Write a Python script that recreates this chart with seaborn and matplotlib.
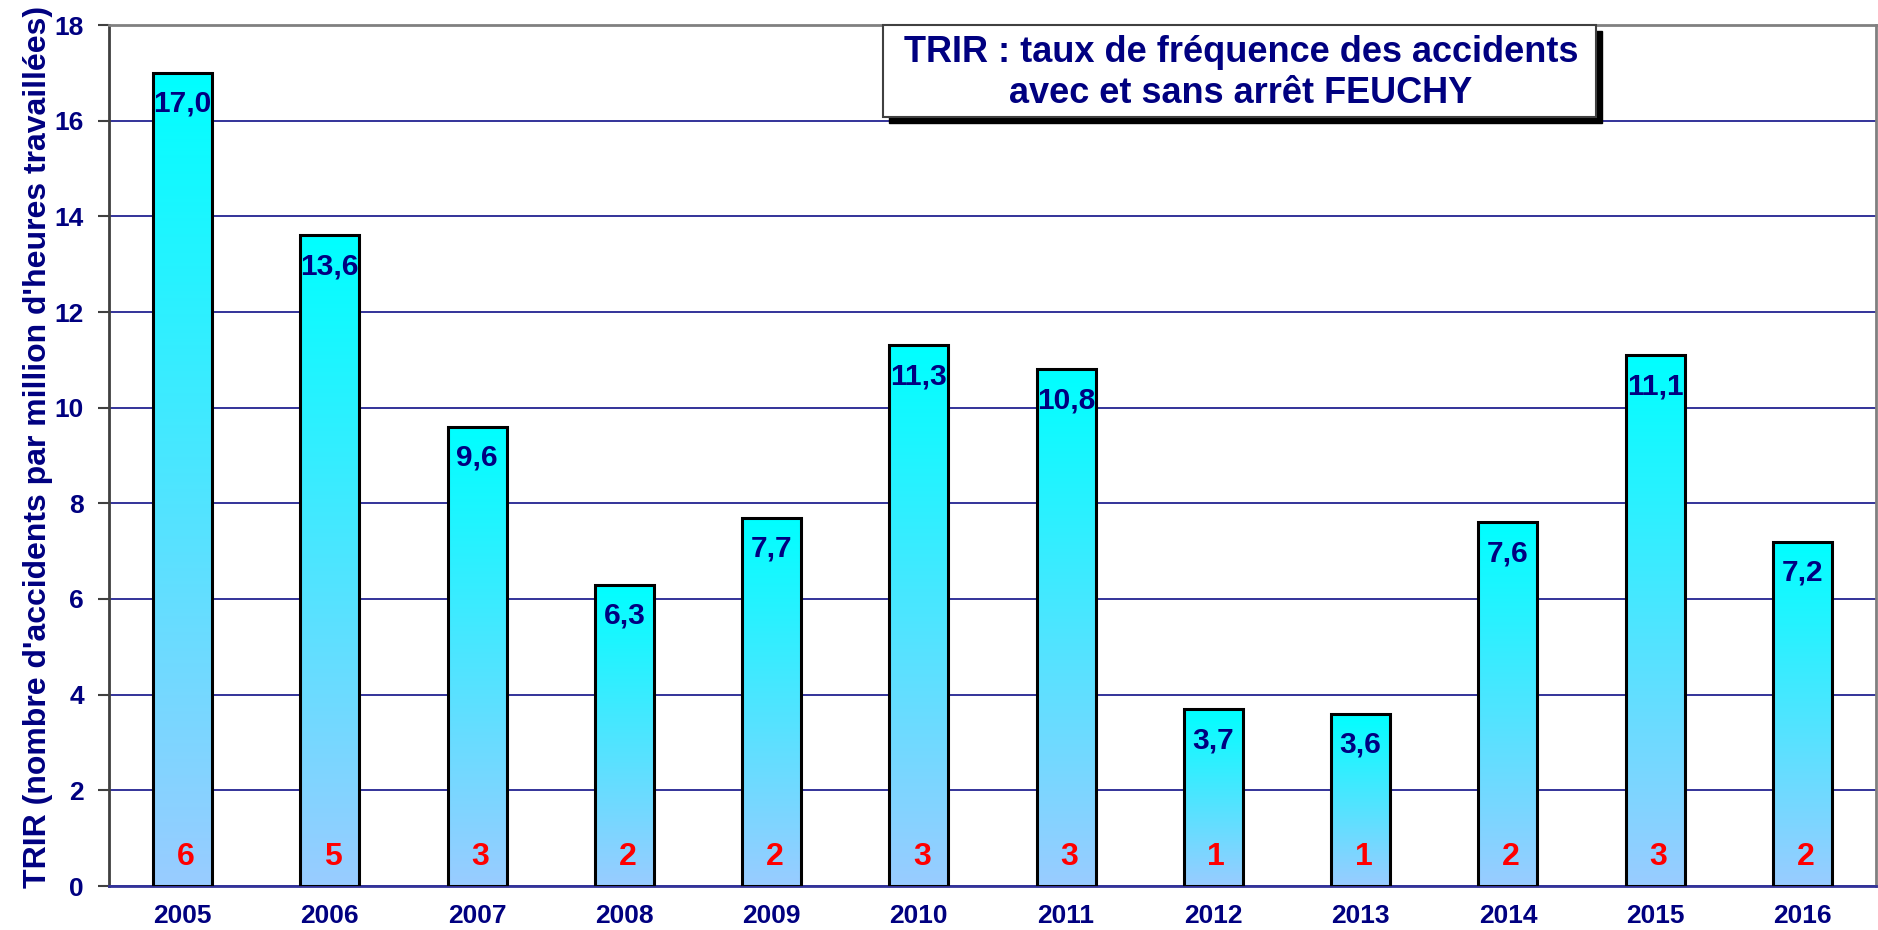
import numpy as np
import pandas as pd
import seaborn as sns
import matplotlib
matplotlib.use("Agg")
import matplotlib.pyplot as plt
from matplotlib.colors import LinearSegmentedColormap
from matplotlib.patches import Rectangle

# data
years = ["2005", "2006", "2007", "2008", "2009", "2010",
         "2011", "2012", "2013", "2014", "2015", "2016"]
trir = [17.0, 13.6, 9.6, 6.3, 7.7, 11.3, 10.8, 3.7, 3.6, 7.6, 11.1, 7.2]
accidents = [6, 5, 3, 2, 2, 3, 3, 1, 1, 2, 3, 2]

title_lines = ["TRIR : taux de fréquence des accidents",
               "avec et sans arrêt FEUCHY"]
ylabel = "TRIR (nombre d'accidents par million d'heures travaillées)"

navy = "#000080"
grid_blue = "#333399"

df = pd.DataFrame({"year": years, "trir": trir, "n": accidents})

sns.set_style("white")
plt.rcParams["font.family"] = ["Liberation Sans", "DejaVu Sans"]
plt.rcParams["font.weight"] = "bold"

W, H = 1878, 930
fig = plt.figure(figsize=(W / 100, H / 100), dpi=100)
ax = fig.add_axes([109 / W, 1 - 886 / H, (1876 - 109) / W, (886 - 25) / H])

sns.barplot(data=df, x="year", y="trir", ax=ax, width=0.40,
            color="white", edgecolor="black", linewidth=2.2, zorder=3)

# vertical gradient inside each bar: light blue at bottom, cyan at top
cmap = LinearSegmentedColormap.from_list("bar", ["#99CCFF", "#00FFFF"])
grad = np.linspace(0, 1, 256).reshape(-1, 1)
for p in ax.patches:
    x0, y0 = p.get_x(), p.get_y()
    w, h = p.get_width(), p.get_height()
    im = ax.imshow(grad, cmap=cmap, origin="lower", aspect="auto",
                   extent=[x0, x0 + w, y0, y0 + h], zorder=2.9)
    im.set_clip_path(p)
    p.set_facecolor("none")

ax.set_xlim(-0.5, len(years) - 0.5)
ax.set_ylim(0, 18)
ax.set_yticks(range(0, 19, 2))

# value labels and accident counts
for i, (v, n) in enumerate(zip(trir, accidents)):
    ax.text(i, v - 0.65, f"{v:.1f}".replace(".", ","), ha="center", va="center",
            color=navy, fontsize=21.5, fontweight="bold", zorder=5)
    ax.text(i + 0.02, 0.6, str(n), ha="center", va="center",
            color="#FF0000", fontsize=23, fontweight="bold", zorder=5)

ax.grid(axis="y", color=grid_blue, linewidth=1.4, zorder=0)
ax.set_axisbelow(True)

ax.set_xlabel("")
ax.set_ylabel("")
fig.text(38 / W, 1 - 447 / H, ylabel, rotation=90, ha="center", va="center",
         color=navy, fontsize=23, fontweight="bold")

# x ticks sit on the category boundaries
ax.set_xticks(np.arange(-0.5, len(years), 1.0), minor=True)
ax.tick_params(axis="x", which="major", length=0, pad=13, labelsize=19,
               labelcolor=navy)
ax.tick_params(axis="x", which="minor", length=8, width=1.5, color=grid_blue,
               direction="out")
ax.tick_params(axis="y", length=8, width=1.5, color="#404040", pad=10,
               labelsize=19, labelcolor=navy, left=True)
for lab in ax.get_xticklabels() + ax.get_yticklabels():
    lab.set_fontweight("bold")

ax.spines["left"].set_color("#404040")
ax.spines["left"].set_linewidth(2)
ax.spines["bottom"].set_color(grid_blue)
ax.spines["bottom"].set_linewidth(2)
ax.spines["top"].set_color("#808080")
ax.spines["top"].set_linewidth(2)
ax.spines["right"].set_color("#808080")
ax.spines["right"].set_linewidth(2)

# title box with drop shadow
bx0, by0, bx1, by1 = 883, 25, 1596, 117
fig.patches.append(Rectangle(((bx0 + 6) / W, 1 - (by1 + 6) / H),
                             (bx1 - bx0) / W, (by1 - by0) / H,
                             transform=fig.transFigure, facecolor="black",
                             edgecolor="black", zorder=10))
fig.patches.append(Rectangle((bx0 / W, 1 - by1 / H), (bx1 - bx0) / W,
                             (by1 - by0) / H, transform=fig.transFigure,
                             facecolor="white", edgecolor="#404040",
                             linewidth=1.5, zorder=11))
for line, base in zip(title_lines, [62, 103]):
    fig.text(1241 / W, 1 - base / H, line, ha="center", va="baseline",
             color=navy, fontsize=26, fontweight="bold", zorder=12)

fig.savefig("out.png", dpi=100)
